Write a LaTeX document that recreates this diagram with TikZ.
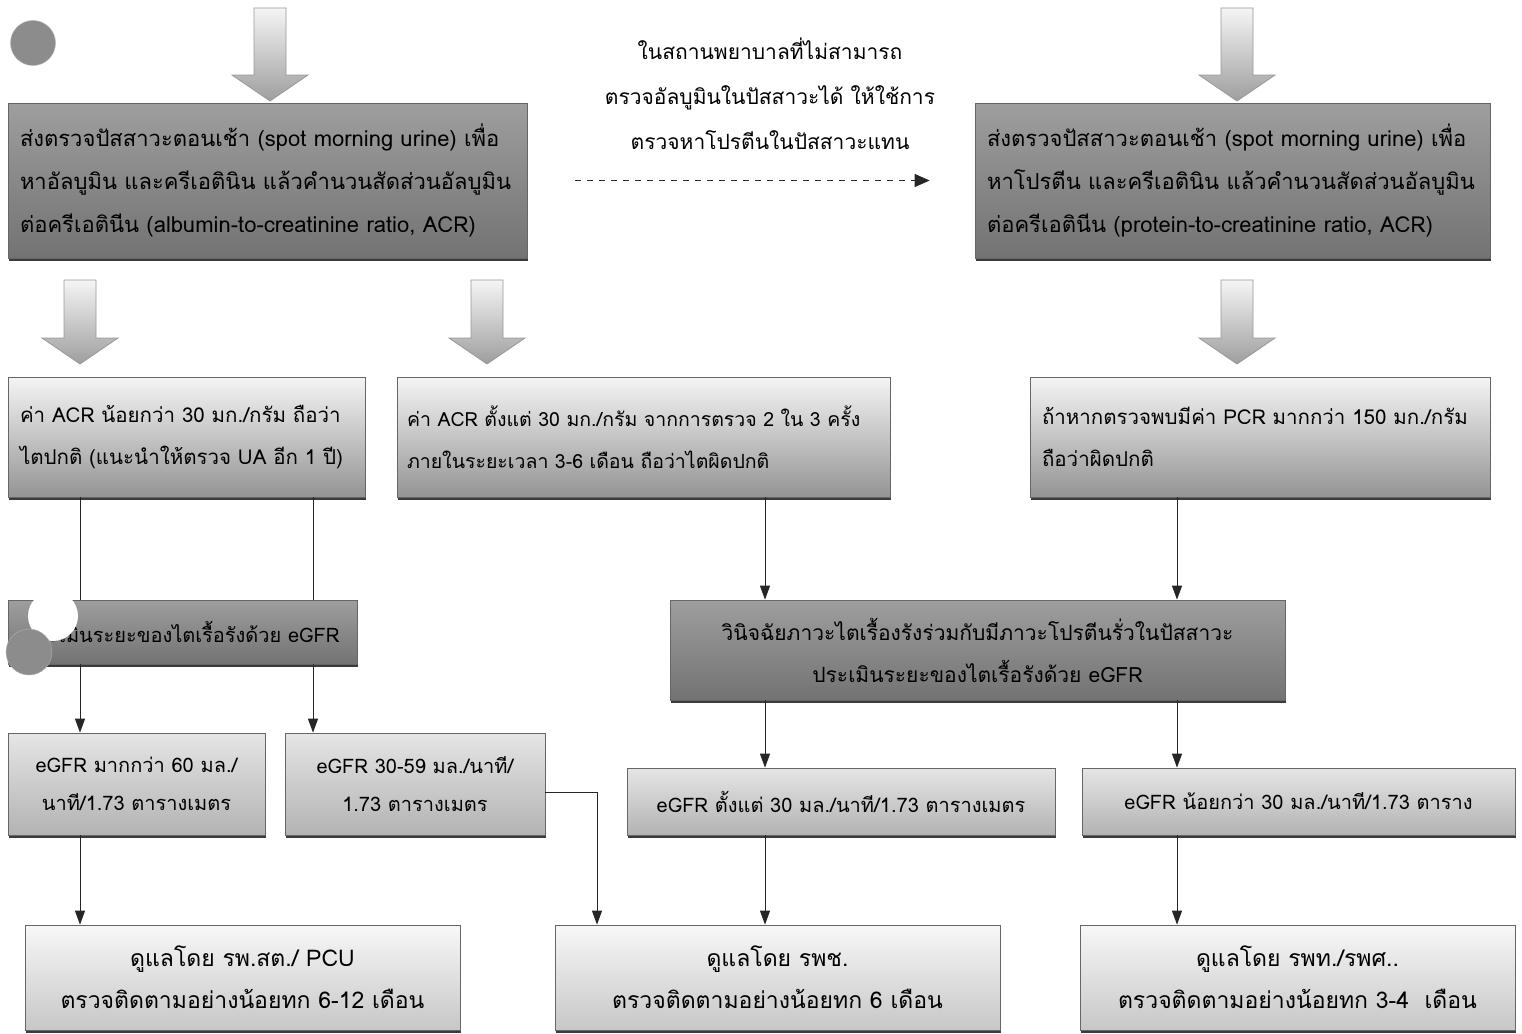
\documentclass[tikz,border=0pt]{standalone}
\usepackage{fontspec}
\setmainfont{Loma}[Script=Thai]
\usetikzlibrary{shadows,arrows.meta,calc}
\tikzset{
  base/.style={rectangle, draw=black!60, line width=0.7pt, inner xsep=12pt, inner ysep=6pt,
    font=\fontsize{20}{42}\selectfont, text=black,
    drop shadow={shadow xshift=0.6pt, shadow yshift=-2.5pt, opacity=0.9, fill=black!85}},
  darkbox/.style={base, top color=black!38, bottom color=black!55},
  midbox/.style={base, top color=black!4, bottom color=black!42},
  lightbox/.style={base, top color=black!10, bottom color=black!30},
  whitebox/.style={base, top color=black!3, bottom color=black!22},
  conn/.style={draw=black!85, line width=1pt, -{Triangle[length=14pt,width=10pt]}},
  plainline/.style={draw=black!85, line width=1pt},
  dasharrow/.style={draw=black!85, line width=1pt, dash pattern=on 6pt off 6pt, -{Triangle[length=15pt,width=13pt]}},
  bigarrow/.style={draw=black!40, line width=0.8pt, top color=black!4, bottom color=black!38},
  blob/.style={circle, fill=black!45, draw=black!30, inner sep=0pt},
  noteText/.style={font=\fontsize{21}{45}\selectfont, align=center, text=black},
}
\newcommand\BigArrow[3]{%
  \path[bigarrow] (#1-16,#2) -- (#1+16,#2) -- (#1+16,#3-26) -- (#1+38,#3-26) -- (#1,#3)
    -- (#1-38,#3-26) -- (#1-16,#3-26) -- cycle;}
\begin{document}
\begin{tikzpicture}[x=1pt,y=-1pt]
\fill[white] (0,0) rectangle (1522,1033);
\useasboundingbox (0,0) rectangle (1522,1033);

% big hollow arrows
\BigArrow{270}{8}{101}
\BigArrow{1237}{8}{101}
\BigArrow{80}{280}{364}
\BigArrow{487}{280}{364}
\BigArrow{1237}{280}{364}

% row 1
\node[darkbox, font=\fontsize{22}{43}\selectfont, minimum width=519pt, minimum height=155pt, text width=495pt, align=left] (A) at (267.5,180.5)
 {ส่งตรวจปัสสาวะตอนเช้า (spot morning urine) เพื่อ\\หาอัลบูมิน และครีเอตินิน แล้วคำนวนสัดส่วนอัลบูมิน\\ต่อครีเอตินีน (albumin-to-creatinine ratio, ACR)};
\node[darkbox, font=\fontsize{22}{43}\selectfont, minimum width=515pt, minimum height=155pt, text width=491pt, align=left] (B) at (1232.5,180.5)
 {ส่งตรวจปัสสาวะตอนเช้า (spot morning urine) เพื่อ\\หาโปรตีน และครีเอตินิน แล้วคำนวนสัดส่วนอัลบูมิน\\ต่อครีเอตินีน (protein-to-creatinine ratio, ACR)};
\node[noteText] (note) at (770,94)
 {ในสถานพยาบาลที่ไม่สามารถ\\ตรวจอัลบูมินในปัสสาวะได้ ให้ใช้การ\\ตรวจหาโปรตีนในปัสสาวะแทน};
\draw[dasharrow, shorten <=48pt, shorten >=45pt] (A.east) -- (B.west);

% row 2
\node[midbox, font=\fontsize{20.5}{42}\selectfont, minimum width=357pt, minimum height=120pt, text width=333pt, align=left] (C) at (186.5,437)
 {ค่า ACR น้อยกว่า 30 มก./กรัม ถือว่า\\ไตปกติ (แนะนำให้ตรวจ UA อีก 1 ปี)};
\node[midbox, font=\fontsize{19.5}{42}\selectfont, inner xsep=10pt, minimum width=493pt, minimum height=120pt, text width=473pt, align=left] (D) at (643.5,437)
 {ค่า ACR ตั้งแต่ 30 มก./กรัม จากการตรวจ 2 ใน 3 ครั้ง\\ภายในระยะเวลา 3-6 เดือน ถือว่าไตผิดปกติ};
\node[midbox, font=\fontsize{20.5}{42}\selectfont, minimum width=460pt, minimum height=120pt, text width=436pt, align=left] (E) at (1260,437)
 {ถ้าหากตรวจพบมีค่า PCR มากกว่า 150 มก./กรัม\\ถือว่าผิดปกติ};

% row 3
\node[darkbox, minimum width=349pt, minimum height=64pt, text width=325pt, align=left] (F) at (182.5,632)
 {\hspace*{5pt}ประเมินระยะของไตเรื้อรังด้วย eGFR};
\node[darkbox, font=\fontsize{21}{42}\selectfont, minimum width=615pt, minimum height=100pt, align=center] (I) at (977.5,650)
 {วินิจฉัยภาวะไตเรื้องรังร่วมกับมีภาวะโปรตีนรั่วในปัสสาวะ\\ประเมินระยะของไตเรื้อรังด้วย eGFR};

% row 4
\node[lightbox, minimum width=257pt, minimum height=102pt, align=center, font=\fontsize{20}{38}\selectfont] (G) at (136.5,784)
 {eGFR มากกว่า 60 มล./\\นาที/1.73 ตารางเมตร};
\node[lightbox, minimum width=260pt, minimum height=102pt, align=center, font=\fontsize{20}{38}\selectfont] (H) at (415,784)
 {eGFR 30-59 มล./นาที/\\1.73 ตารางเมตร};
\node[lightbox, minimum width=428pt, minimum height=67pt, align=center] (J) at (841,801.5)
 {eGFR ตั้งแต่ 30 มล./นาที/1.73 ตารางเมตร};
\node[lightbox, minimum width=433pt, minimum height=67pt, align=center] (K) at (1298.5,801.5)
 {eGFR น้อยกว่า 30 มล./นาที/1.73 ตาราง};

% row 5
\node[whitebox, font=\fontsize{23}{42}\selectfont, minimum width=435pt, minimum height=105pt, align=center] (L) at (242.5,977.5)
 {ดูแลโดย รพ.สต./ PCU\\ตรวจติดตามอย่างน้อยทก 6-12 เดือน};
\node[whitebox, font=\fontsize{23}{42}\selectfont, minimum width=445pt, minimum height=105pt, align=center] (M) at (777.5,977.5)
 {ดูแลโดย รพช.\\ตรวจติดตามอย่างน้อยทก 6 เดือน};
\node[whitebox, font=\fontsize{23}{42}\selectfont, minimum width=435pt, minimum height=105pt, align=center] (N) at (1297.5,977.5)
 {ดูแลโดย รพท./รพศ..\\ตรวจติดตามอย่างน้อยทก 3-4~~เดือน};

% connector x positions
\coordinate (xa) at (80,0);
\coordinate (xb) at (313,0);
\coordinate (xc) at (765,0);
\coordinate (xd) at (1177,0);
\coordinate (xe) at (597,0);
\coordinate (yh) at (0,792);

\draw[plainline] (C.south -| xa) -- (F.north -| xa);
\draw[plainline] (C.south -| xb) -- (F.north -| xb);
\draw[conn] (F.south -| xa) -- (G.north -| xa);
\draw[conn] (F.south -| xb) -- (H.north -| xb);
\draw[conn] (D.south -| xc) -- (I.north -| xc);
\draw[conn] (E.south -| xd) -- (I.north -| xd);
\draw[conn] (I.south -| xc) -- (J.north -| xc);
\draw[conn] (I.south -| xd) -- (K.north -| xd);
\draw[conn] (G.south -| xa) -- (L.north -| xa);
\draw[conn] (H.east |- yh) -| (M.north -| xe);
\draw[conn] (J.south -| xc) -- (M.north -| xc);
\draw[conn] (K.south -| xd) -- (N.north -| xd);

% blobs
\node[blob, minimum size=45pt] (c1) at (33,43) {};
\node[circle, fill=white, inner sep=0pt, minimum size=50pt] (c2) at (53,616) {};
\node[blob, minimum size=46pt] (c3) at (29,652) {};
\end{tikzpicture}
\end{document}
